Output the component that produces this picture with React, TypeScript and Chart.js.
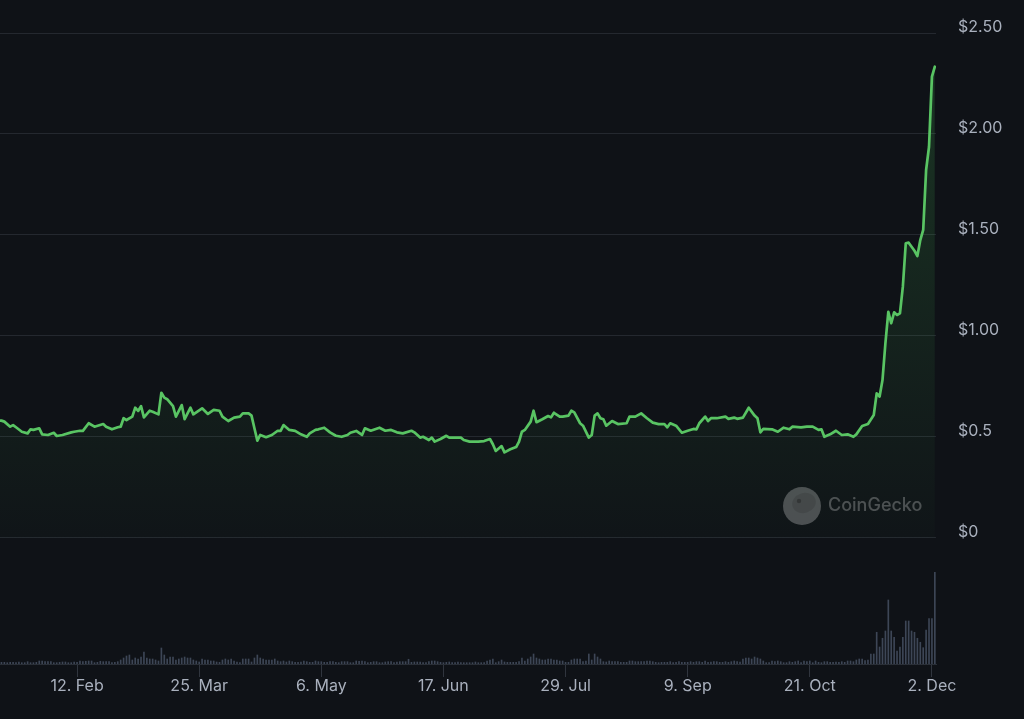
import React, { useEffect, useRef } from "react";
import { Chart, registerables } from "chart.js";

Chart.register(...registerables);

// ---- Data (day index: 0 = 1 Jan 2024) ----
const xTickDays = [42, 84, 126, 168, 210, 252, 294, 336];
const xTickLabels = ["12. Feb", "25. Mar", "6. May", "17. Jun", "29. Jul", "9. Sep", "21. Oct", "2. Dec"];

const yTickValues = [0, 0.5, 1, 1.5, 2, 2.5];
const yTickLabels = ["$0", "$0.5", "$1.00", "$1.50", "$2.00", "$2.50"];

const priceDays = [
  15, 16, 17, 19, 20, 21, 23, 25, 26, 27, 29, 30, 32, 34, 35, 37, 40, 41, 43, 44,
  46, 48, 51, 52, 54, 56, 57, 58, 59, 61, 62, 63, 64, 65, 67, 68, 70, 71, 72, 73,
  75, 76, 78, 79, 81, 82, 85, 87, 89, 91, 92, 94, 96, 98, 99, 101, 102, 103, 104, 105,
  107, 109, 111, 112, 113, 115, 117, 119, 121, 122, 124, 125, 127, 129, 131, 133, 135, 136, 138, 140,
  141, 143, 146, 148, 150, 152, 154, 157, 158, 160, 161, 163, 164, 165, 167, 169, 170, 174, 175, 177,
  178, 180, 182, 184, 185, 186, 188, 189, 191, 193, 194, 195, 196, 198, 199, 200, 202, 204, 205, 206,
  208, 209, 211, 212, 213, 215, 216, 218, 219, 220, 221, 222, 223, 224, 226, 228, 231, 232, 234, 236,
  238, 240, 242, 244, 245, 246, 248, 250, 252, 254, 255, 256, 258, 259, 260, 262, 265, 266, 268, 269,
  271, 273, 275, 276, 277, 278, 281, 283, 285, 287, 288, 291, 293, 295, 297, 298, 299, 301, 303, 305,
  307, 309, 310, 312, 314, 316, 317, 318, 319, 320, 321, 322, 323, 324, 325, 326, 327, 328, 330, 331,
  332, 333, 334, 335, 336, 337,
];

const prices = [
  0.582, 0.581, 0.576, 0.551, 0.559, 0.548, 0.526, 0.518, 0.538, 0.535, 0.543, 0.513, 0.51, 0.521, 0.505, 0.51, 0.523, 0.526, 0.531, 0.53,
  0.568, 0.551, 0.564, 0.551, 0.538, 0.548, 0.551, 0.593, 0.584, 0.601, 0.645, 0.629, 0.653, 0.597, 0.63, 0.625, 0.612, 0.719, 0.695, 0.687,
  0.653, 0.601, 0.658, 0.588, 0.645, 0.612, 0.642, 0.614, 0.634, 0.63, 0.601, 0.579, 0.596, 0.601, 0.617, 0.617, 0.606, 0.543, 0.482, 0.51,
  0.499, 0.51, 0.531, 0.53, 0.559, 0.535, 0.53, 0.513, 0.501, 0.518, 0.535, 0.538, 0.546, 0.523, 0.506, 0.501, 0.51, 0.521, 0.53, 0.51,
  0.543, 0.531, 0.546, 0.531, 0.535, 0.523, 0.518, 0.531, 0.523, 0.497, 0.501, 0.485, 0.497, 0.477, 0.49, 0.506, 0.497, 0.497, 0.485, 0.477,
  0.477, 0.477, 0.48, 0.49, 0.464, 0.431, 0.455, 0.424, 0.439, 0.45, 0.477, 0.526, 0.535, 0.576, 0.63, 0.573, 0.588, 0.604, 0.597, 0.62,
  0.601, 0.601, 0.606, 0.63, 0.622, 0.568, 0.556, 0.497, 0.51, 0.606, 0.617, 0.593, 0.588, 0.556, 0.579, 0.564, 0.568, 0.601, 0.601, 0.617,
  0.593, 0.571, 0.564, 0.564, 0.548, 0.568, 0.556, 0.521, 0.531, 0.54, 0.538, 0.568, 0.601, 0.579, 0.593, 0.593, 0.601, 0.59, 0.596, 0.59,
  0.596, 0.645, 0.606, 0.593, 0.523, 0.54, 0.538, 0.526, 0.546, 0.538, 0.551, 0.548, 0.551, 0.551, 0.535, 0.538, 0.501, 0.513, 0.531, 0.51,
  0.513, 0.501, 0.513, 0.554, 0.564, 0.609, 0.716, 0.7, 0.782, 0.964, 1.12, 1.063, 1.117, 1.104, 1.112, 1.244, 1.459, 1.462, 1.422, 1.396,
  1.475, 1.525, 1.822, 1.937, 2.284, 2.333,
];

// daily trading volume, billions USD, starting at day 15
const volumeStartDay = 15;
const volumes = [
  0.42, 0.42, 0.42, 0.33, 0.42, 0.42, 0.33, 0.5, 0.33, 0.33,
  0.58, 0.33, 0.33, 0.42, 0.75, 0.75, 0.58, 0.58, 0.58, 0.33,
  0.33, 0.42, 0.5, 0.5, 0.33, 0.33, 0.5, 0.42, 0.75, 0.58,
  0.68, 0.75, 0.75, 0.33, 0.42, 0.68, 0.58, 0.58, 0.58, 0.33,
  0.42, 0.58, 1, 1.5, 2, 2.25, 1, 1.5, 1.25, 1.75,
  3, 1.5, 1.25, 1.25, 1, 0.75, 4, 2.25, 1.25, 1.75,
  1.75, 1, 1.25, 1.5, 1.75, 1.5, 1.5, 1, 0.75, 0.5,
  1.25, 1, 1, 0.75, 0.75, 0.5, 0.42, 1, 1.25, 1,
  1.25, 0.75, 0.5, 0.33, 1.25, 1.25, 1.25, 0.5, 1.5, 2.25,
  1.5, 1.25, 1, 1, 1, 1.25, 0.75, 0.58, 0.75, 0.5,
  0.75, 0.58, 0.42, 0.42, 0.5, 0.75, 0.58, 0.42, 0.42, 0.75,
  0.58, 0.58, 0.42, 0.42, 0.58, 0.58, 0.42, 0.33, 0.58, 0.58,
  0.58, 0.33, 0.33, 0.75, 0.68, 0.75, 0.58, 0.33, 0.42, 0.58,
  0.58, 0.33, 0.33, 0.5, 0.58, 0.58, 0.33, 0.5, 0.58, 0.58,
  0.58, 1.18, 0.42, 0.5, 0.5, 0.5, 0.33, 0.33, 0.58, 0.75,
  0.75, 0.58, 0.42, 0.33, 0.42, 0.5, 0.33, 0.33, 0.5, 0.33,
  0.33, 0.33, 0.33, 0.33, 0.5, 0.33, 0.33, 0.33, 0.75, 1,
  1.25, 0.33, 0.58, 1, 0.5, 0.42, 0.42, 0.42, 0.42, 0.58,
  1.5, 0.75, 1.25, 1.75, 2.5, 1.5, 1.25, 1, 1, 1.25,
  1.25, 1, 1, 0.75, 0.75, 0.42, 0.42, 1, 1.25, 1.25,
  1.25, 0.58, 0.75, 2.5, 1, 2.5, 1.75, 1.25, 0.58, 0.5,
  0.75, 0.58, 0.58, 0.58, 0.42, 0.42, 0.42, 0.75, 0.75, 0.58,
  0.58, 0.58, 0.58, 0.75, 0.75, 0.58, 0.42, 0.33, 0.42, 0.42,
  0.42, 0.58, 0.33, 0.42, 0.58, 0.42, 0.42, 0.42, 0.58, 0.42,
  0.58, 0.58, 0.42, 0.75, 0.42, 0.5, 0.58, 0.58, 0.42, 0.42,
  0.58, 0.42, 0.58, 0.75, 0.58, 0.5, 1.25, 1.5, 1.5, 1.25,
  1.75, 1.5, 1.25, 0.75, 0.33, 0.33, 0.75, 0.58, 0.75, 0.58,
  0.33, 0.33, 0.58, 0.42, 0.58, 0.75, 0.33, 0.75, 0.58, 0.75,
  0.33, 0.75, 0.42, 0.33, 0.58, 0.58, 0.42, 0.42, 0.5, 0.42,
  0.58, 0.42, 0.75, 0.75, 0.58, 1, 1.25, 1.25, 0.83, 1,
  2.5, 2.5, 7.93, 4.25, 6.43, 8.25, 16, 8.25, 6.68, 3.25,
  4.25, 6.68, 10.75, 10.75, 8.25, 7.93, 6.43, 5.43, 4.08, 8.5,
  11.33, 11.33, 22.93,
];

const BG = "#0f1217";
const TEXT = "#a9b0bd";
const LINE = "#59c463";
const GRID = "#24282f";
const VOL_BAR = "#3d4656";
const FONT = "Inter, 'Noto Sans', sans-serif";

const backgroundPlugin = {
  id: "bgFill",
  beforeDraw(chart: any) {
    const { ctx, width, height } = chart;
    ctx.save();
    ctx.fillStyle = BG;
    ctx.fillRect(0, 0, width, height);
    ctx.restore();
  },
};

const watermarkPlugin = {
  id: "watermark",
  afterDatasetsDraw(chart: any) {
    const { ctx, chartArea, scales } = chart;
    const y0 = scales.y.getPixelForValue(0);
    const cx = chartArea.right - 134;
    const cy = y0 - 32;
    ctx.save();
    ctx.fillStyle = "rgba(255,255,255,0.25)";
    ctx.beginPath();
    ctx.arc(cx, cy, 19, 0, Math.PI * 2);
    ctx.fill();
    // gecko head
    ctx.fillStyle = "rgba(0,0,0,0.10)";
    ctx.beginPath();
    ctx.ellipse(cx + 2, cy - 3, 12, 10, -0.3, 0, Math.PI * 2);
    ctx.fill();
    ctx.fillStyle = "rgba(0,0,0,0.25)";
    ctx.beginPath();
    ctx.arc(cx - 3, cy - 5, 2.2, 0, Math.PI * 2);
    ctx.fill();
    ctx.fillStyle = "rgba(255,255,255,0.25)";
    ctx.font = `500 18px ${FONT}`;
    ctx.textBaseline = "middle";
    ctx.textAlign = "left";
    ctx.fillText("CoinGecko", cx + 26, cy);
    ctx.restore();
  },
};

export default function App() {
  const canvasRef = useRef<HTMLCanvasElement | null>(null);

  useEffect(() => {
    document.body.style.margin = "0";
    document.body.style.background = BG;
    const canvas = canvasRef.current;
    if (!canvas) return;

    const priceData = prices.map((p, i) => ({ x: priceDays[i], y: p }));
    const volumeData = volumes.map((v, i) => ({ x: volumeStartDay + i, y: v }));

    const chart = new Chart(canvas, {
      type: "line",
      data: {
        datasets: [
          {
            type: "line",
            label: "Price",
            data: priceData,
            yAxisID: "y",
            borderColor: LINE,
            borderWidth: 2.7,
            borderJoinStyle: "round",
            borderCapStyle: "round",
            pointRadius: 0,
            tension: 0,
            fill: "origin",
            order: 0,
            backgroundColor: (ctx: any) => {
              const chart = ctx.chart;
              const { chartArea, scales } = chart;
              if (!chartArea || !scales.y) return "rgba(0,0,0,0)";
              const y0 = scales.y.getPixelForValue(0);
              const g = chart.ctx.createLinearGradient(0, chartArea.top, 0, y0);
              g.addColorStop(0, "rgba(76,200,90,0.20)");
              g.addColorStop(1, "rgba(76,200,90,0.015)");
              return g;
            },
          } as any,
          {
            type: "bar",
            label: "Volume",
            data: volumeData,
            yAxisID: "yVol",
            backgroundColor: VOL_BAR,
            barThickness: 1,
            order: 1,
          } as any,
        ],
      },
      options: {
        animation: false,
        responsive: true,
        maintainAspectRatio: false,
        devicePixelRatio: 1,
        layout: { padding: { top: 33, left: 0, right: 0, bottom: 0 } },
        plugins: {
          legend: { display: false },
          tooltip: { enabled: false },
        },
        scales: {
          x: {
            type: "linear",
            min: 15.5,
            max: 337.4,
            offset: false,
            afterBuildTicks: (s: any) => {
              s.ticks = xTickDays.map((v) => ({ value: v }));
            },
            afterFit: (s: any) => {
              s.height = 55;
            },
            ticks: {
              autoSkip: false,
              maxRotation: 0,
              padding: 0,
              color: TEXT,
              font: { family: FONT, size: 16 },
              callback: (v: any) => xTickLabels[xTickDays.indexOf(Number(v))] ?? "",
            },
            grid: {
              display: true,
              offset: false,
              drawOnChartArea: false,
              drawTicks: true,
              tickLength: 13,
              tickColor: "#30353e",
              tickWidth: 1,
            },
            border: { display: true, color: "#2a2f37", width: 1 },
          },
          y: {
            type: "linear",
            position: "right",
            min: -0.6238,
            max: 2.5,
            afterBuildTicks: (s: any) => {
              s.ticks = yTickValues.map((v) => ({ value: v }));
            },
            afterFit: (s: any) => {
              s.width = 88;
            },
            ticks: {
              padding: 22,
              labelOffset: -6,
              color: TEXT,
              font: { family: FONT, size: 16 },
              callback: (v: any) => yTickLabels[yTickValues.indexOf(Number(v))] ?? "",
            },
            grid: { color: GRID, drawTicks: false, lineWidth: 1 },
            border: { display: false },
          },
          yVol: {
            type: "linear",
            display: false,
            min: 0,
            max: 157.75,
          },
        },
      },
      plugins: [backgroundPlugin, watermarkPlugin],
    } as any);

    return () => chart.destroy();
  }, []);

  return (
    <div style={{ width: 1024, height: 719, position: "relative", background: BG }}>
      <canvas ref={canvasRef} />
    </div>
  );
}
